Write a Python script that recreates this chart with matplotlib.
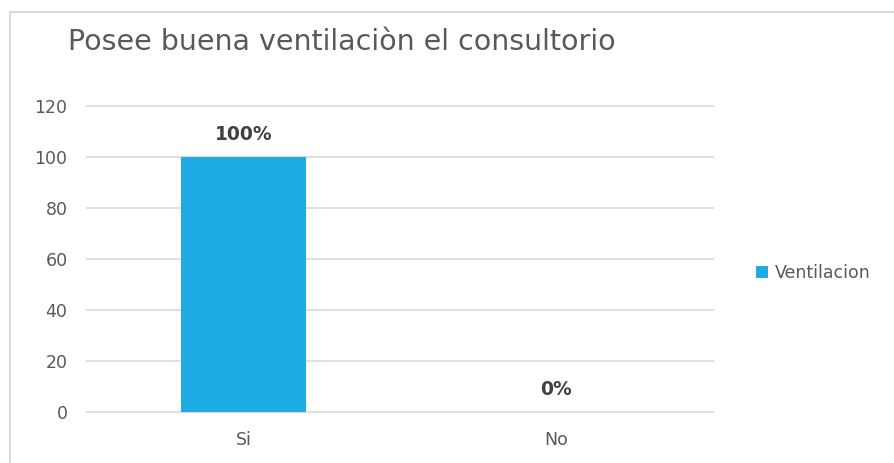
import matplotlib
matplotlib.use("Agg")
import matplotlib.pyplot as plt
from matplotlib.patches import Rectangle

categorias = ["Si", "No"]
valores = [100, 0]
etiquetas = ["100%", "0%"]
serie = "Ventilacion"
titulo = "Posee buena ventilaciòn el consultorio"
yticks = [0, 20, 40, 60, 80, 100, 120]

gris = "#595959"
azul = "#1eabe3"

plt.rcParams['font.family'] = ['DejaVu Sans']

fig = plt.figure(figsize=(8.95, 4.63), dpi=100)
ax = fig.add_axes([87/895, 1-412/463, (713-87)/895, (412-106)/463])

x = range(len(categorias))
bars = ax.bar(x, valores, width=0.4, color=azul, label=serie, zorder=3)
for b, t in zip(bars, etiquetas):
    ax.annotate(t, (b.get_x() + b.get_width()/2, b.get_height()),
                xytext=(0, 16), textcoords="offset points",
                ha="center", va="center", fontsize=13.5, fontweight="bold",
                color="#404040")

ax.set_xlim(-0.5, 1.5)
ax.set_ylim(0, 120)
ax.set_yticks(yticks)
ax.set_xticks(list(x))
ax.set_xticklabels(categorias)
ax.grid(axis="y", color="#d9d9d9", linewidth=1.2, zorder=0)
for gl in ax.get_ygridlines():
    gl.set_clip_on(False)
for s in ax.spines.values():
    s.set_visible(False)
ax.tick_params(length=0, labelsize=12.5, colors=gris)
ax.tick_params(axis="y", pad=14)
ax.tick_params(axis="x", pad=14)

fig.text(68/895, 1-42/463, titulo, fontsize=20.5, color=gris, va="center", ha="left")

leg = ax.legend(loc="center left", bbox_to_anchor=(740/895, 1-273/463),
                bbox_transform=fig.transFigure, frameon=False, fontsize=12.5,
                handlelength=0.7, handleheight=0.7, handletextpad=0.4,
                labelcolor=gris)

fig.patches.append(Rectangle((10/895, -0.1), 1.2, 1.1 - 12/463,
                             transform=fig.transFigure, fill=False,
                             edgecolor="#d9d9d9", linewidth=1.5))

fig.savefig("out.png", dpi=100)
